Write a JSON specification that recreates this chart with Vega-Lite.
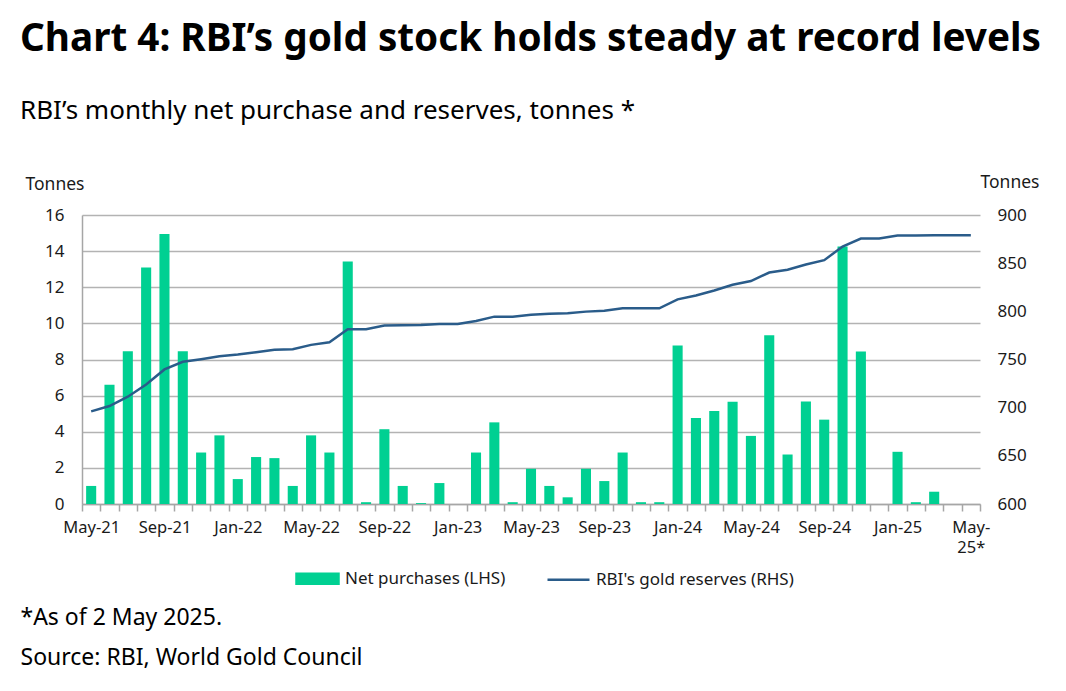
{
  "$schema": "https://vega.github.io/schema/vega-lite/v6.json",
  "autosize": {"type": "none"},
  "padding": {"left": 82, "top": 215, "right": 86, "bottom": 187},
  "width": 898,
  "height": 289,
  "background": "white",
  "config": {
    "view": {"stroke": null},
    "font": "Noto Sans",
    "axis": {"labelFont": "Noto Sans", "titleFont": "Noto Sans", "labelColor": "#1a1a1a", "titleColor": "#1a1a1a"}
  },
  "title": {
    "text": "Chart 4: RBI’s gold stock holds steady at record levels",
    "subtitle": "RBI’s monthly net purchase and reserves, tonnes *",
    "anchor": "start",
    "frame": "group",
    "dx": -62,
    "fontSize": 38.7,
    "fontWeight": "bold",
    "color": "#000000",
    "subtitleFontSize": 26,
    "subtitleColor": "#000000",
    "subtitlePadding": 39,
    "offset": 49
  },
  "data": {
    "values": [
      {"month": "May-21", "purchases": 1.0, "reserves": 696.2},
      {"month": "Jun-21", "purchases": 6.6, "reserves": 701.7},
      {"month": "Jul-21", "purchases": 8.45, "reserves": 711.4},
      {"month": "Aug-21", "purchases": 13.1, "reserves": 724.1},
      {"month": "Sep-21", "purchases": 14.95, "reserves": 739.7},
      {"month": "Oct-21", "purchases": 8.45, "reserves": 747.6},
      {"month": "Nov-21", "purchases": 2.85, "reserves": 750.3},
      {"month": "Dec-21", "purchases": 3.8, "reserves": 753.4},
      {"month": "Jan-22", "purchases": 1.38, "reserves": 755.2},
      {"month": "Feb-22", "purchases": 2.6, "reserves": 757.6},
      {"month": "Mar-22", "purchases": 2.54, "reserves": 760.0},
      {"month": "Apr-22", "purchases": 1.0, "reserves": 760.7},
      {"month": "May-22", "purchases": 3.8, "reserves": 765.2},
      {"month": "Jun-22", "purchases": 2.85, "reserves": 767.9},
      {"month": "Jul-22", "purchases": 13.43, "reserves": 781.4},
      {"month": "Aug-22", "purchases": 0.1, "reserves": 781.4},
      {"month": "Sep-22", "purchases": 4.14, "reserves": 785.2},
      {"month": "Oct-22", "purchases": 1.0, "reserves": 785.5},
      {"month": "Nov-22", "purchases": 0.05, "reserves": 785.9},
      {"month": "Dec-22", "purchases": 1.16, "reserves": 786.9},
      {"month": "Jan-23", "purchases": 0, "reserves": 786.9},
      {"month": "Feb-23", "purchases": 2.85, "reserves": 790.0},
      {"month": "Mar-23", "purchases": 4.52, "reserves": 794.5},
      {"month": "Apr-23", "purchases": 0.1, "reserves": 794.5},
      {"month": "May-23", "purchases": 1.95, "reserves": 796.5},
      {"month": "Jun-23", "purchases": 1.0, "reserves": 797.6},
      {"month": "Jul-23", "purchases": 0.37, "reserves": 797.9},
      {"month": "Aug-23", "purchases": 1.95, "reserves": 799.7},
      {"month": "Sep-23", "purchases": 1.27, "reserves": 800.7},
      {"month": "Oct-23", "purchases": 2.85, "reserves": 803.1},
      {"month": "Nov-23", "purchases": 0.1, "reserves": 803.1},
      {"month": "Dec-23", "purchases": 0.1, "reserves": 803.1},
      {"month": "Jan-24", "purchases": 8.77, "reserves": 812.4},
      {"month": "Feb-24", "purchases": 4.76, "reserves": 816.5},
      {"month": "Mar-24", "purchases": 5.15, "reserves": 821.7},
      {"month": "Apr-24", "purchases": 5.66, "reserves": 827.6},
      {"month": "May-24", "purchases": 3.77, "reserves": 831.4},
      {"month": "Jun-24", "purchases": 9.34, "reserves": 840.3},
      {"month": "Jul-24", "purchases": 2.74, "reserves": 843.1},
      {"month": "Aug-24", "purchases": 5.68, "reserves": 848.6},
      {"month": "Sep-24", "purchases": 4.67, "reserves": 853.1},
      {"month": "Oct-24", "purchases": 14.25, "reserves": 867.2},
      {"month": "Nov-24", "purchases": 8.44, "reserves": 875.5},
      {"month": "Dec-24", "purchases": 0, "reserves": 875.5},
      {"month": "Jan-25", "purchases": 2.89, "reserves": 878.6},
      {"month": "Feb-25", "purchases": 0.1, "reserves": 878.6},
      {"month": "Mar-25", "purchases": 0.68, "reserves": 879.0},
      {"month": "Apr-25", "purchases": 0, "reserves": 879.0},
      {"month": "May-25", "purchases": 0, "reserves": 879.0}
    ]
  },
  "encoding": {
    "x": {
      "field": "month",
      "type": "ordinal",
      "sort": null,
      "scale": {"paddingInner": 0, "paddingOuter": 0},
      "axis": {
        "title": ["*As of 2 May 2025.", "Source: RBI, World Gold Council"],
        "titleFontSize": 23,
        "titleFontWeight": "normal",
        "titleColor": "#000000",
        "titleAlign": "left",
        "titleAnchor": "start",
        "titleBaseline": "alphabetic",
        "titleLineHeight": 40,
        "titleX": -62,
        "titleY": 120,
        "labelAngle": 0,
        "labelFontSize": 16.5,
        "labelPadding": 8,
        "labelExpr": "datum.label == 'May-25' ? ['May-', '25*'] : (test(/^(May|Sep|Jan)/, datum.label) ? datum.label : '')",
        "labelLineHeight": 20,
        "tickBand": "extent",
        "tickSize": 7,
        "tickColor": "#a6a6a6",
        "tickWidth": 1.5,
        "domainColor": "#a6a6a6",
        "domainWidth": 1.5,
        "grid": false
      }
    }
  },
  "layer": [
    {
      "mark": {"type": "bar", "width": {"band": 0.55}},
      "encoding": {
        "y": {
          "field": "purchases",
          "type": "quantitative",
          "scale": {"domain": [0, 16]},
          "axis": {
            "title": "Tonnes",
            "titleAngle": 0,
            "titleFontSize": 17.5,
            "titleFontWeight": "normal",
            "titleAlign": "left",
            "titleBaseline": "alphabetic",
            "titleX": -57,
            "titleY": -26,
            "values": [0, 2, 4, 6, 8, 10, 12, 14, 16],
            "labelFontSize": 17,
            "labelPadding": 18,
            "ticks": false,
            "domainColor": "#a6a6a6",
            "domainWidth": 1.5,
            "grid": true,
            "gridColor": "#b3b3b3",
            "gridWidth": 1.5
          }
        },
        "color": {
          "datum": "Net purchases (LHS)",
          "type": "nominal",
          "scale": {"domain": ["Net purchases (LHS)", "RBI's gold reserves (RHS)"], "range": ["#00d092", "#2a5c8a"]},
          "legend": {
            "title": null,
            "orient": "none",
            "legendX": 213,
            "legendY": 341,
            "direction": "horizontal",
            "labelFontSize": 17,
            "labelLimit": 400,
            "labelColor": "#1a1a1a",
            "labelFont": "Noto Sans",
            "symbolSize": 1764,
            "columnPadding": 36,
            "labelOffset": 5,
            "encode": {
              "symbols": {
                "update": {
                  "shape": {"signal": "datum.value == 'Net purchases (LHS)' ? 'M-1,-0.24H1V0.24H-1Z' : 'M-1,0H1'"},
                  "fill": {"signal": "datum.value == 'Net purchases (LHS)' ? '#00d092' : 'transparent'"},
                  "stroke": {"signal": "datum.value == 'Net purchases (LHS)' ? 'transparent' : '#2a5c8a'"},
                  "strokeWidth": {"value": 2.5},
                  "opacity": {"value": 1}
                }
              }
            }
          }
        }
      }
    },
    {
      "mark": {"type": "line", "strokeWidth": 2.5},
      "encoding": {
        "y": {
          "field": "reserves",
          "type": "quantitative",
          "scale": {"domain": [600, 900]},
          "axis": {
            "orient": "right",
            "title": "Tonnes",
            "titleAngle": 0,
            "titleFontSize": 17.5,
            "titleFontWeight": "normal",
            "titleAlign": "left",
            "titleBaseline": "alphabetic",
            "titleX": 0,
            "titleY": -28,
            "values": [600, 650, 700, 750, 800, 850, 900],
            "labelFontSize": 17,
            "labelPadding": 17,
            "ticks": false,
            "domain": false,
            "grid": false
          }
        },
        "color": {"datum": "RBI's gold reserves (RHS)", "type": "nominal"}
      }
    }
  ],
  "resolve": {"scale": {"y": "independent"}}
}
